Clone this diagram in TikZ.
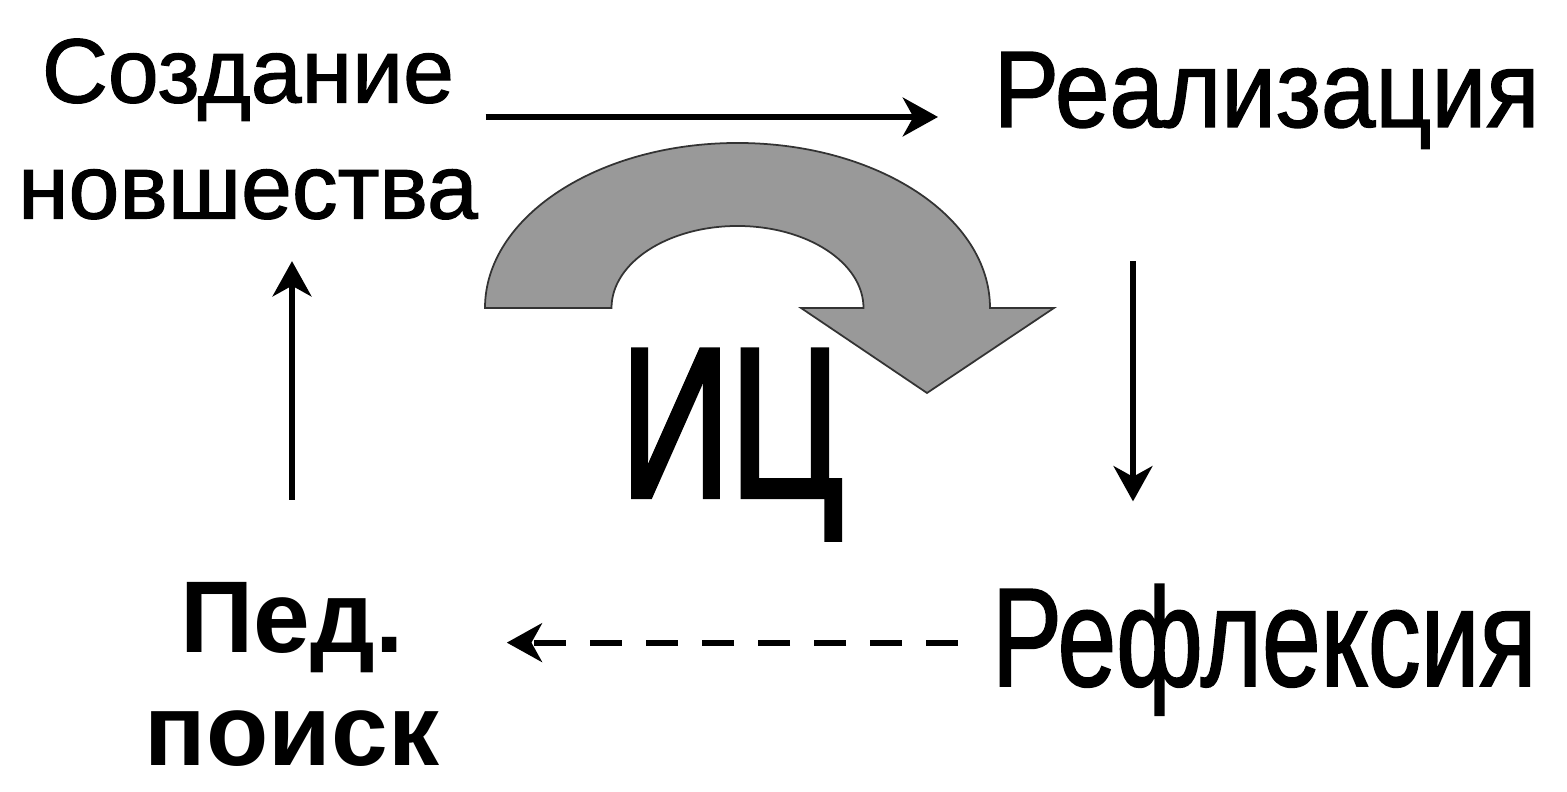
\documentclass[tikz,border=0pt]{standalone}
\usepackage{fontspec}
\setmainfont{Liberation Sans}
\newfontfamily\createfont[FakeBold=1.3]{Liberation Sans}
\newfontfamily\realfont[FakeStretch=0.9, FakeBold=1.2]{Liberation Sans}
\newfontfamily\reflfont[FakeStretch=0.75, FakeBold=1.2]{Liberation Sans}
\newfontfamily\icfont[FakeStretch=0.71, FakeBold=2]{Liberation Sans}
\usetikzlibrary{arrows.meta}
\definecolor{arcgray}{RGB}{153,153,153}
\tikzset{
	arr/.style={line width=1.7pt, -{Stealth[length=10pt, width=11pt, inset=3pt]}},
	dasharr/.style={arr, dash pattern=on 0.32cm off 0.24cm},
	lbl/.style={inner sep=2pt}
}

\begin{document}
\begin{tikzpicture}
				\useasboundingbox (0, 0) rectangle (15.67, 7.92);
				% Nodes:
				\node[lbl, anchor=north, align=center,
				font=\fontsize{26}{33}\createfont] (create) at (2.48, 7.61)
				{Создание\\новшества};
				\node[lbl, anchor=base west, font=\fontsize{31}{36}\realfont]
				(real) at (9.86, 6.65){Реализация};
				\node[lbl, anchor=base west, font=\fontsize{40}{46}\reflfont]
				(refl) at (9.84, 1.06){Рефлексия};
				\node[lbl, anchor=north, align=center,
				font=\fontsize{29}{32}\selectfont\bfseries] (search) at (2.92, 2.17)
				{Пед.\\поиск};
				\node[lbl, anchor=base west, font=\fontsize{61}{70}\icfont]
				(ic) at (6.13, 2.95){ИЦ};
				% Curved arrow:
				\filldraw[fill=arcgray, draw=black!80, line width=0.5pt]
				(4.85, 4.84) arc[start angle=180, end angle=0,
				x radius=2.525, y radius=1.65] -- (10.54, 4.84)
				-- (9.27, 3.99) -- (8.01, 4.84) -- (8.635, 4.84)
				arc[start angle=0, end angle=180, x radius=1.26, y radius=0.82]
				-- cycle;
				% Arrows:
				\draw[arr, shorten >=4.8mm]
				([yshift=1mm]create.east |- real.base west)
				-- ([yshift=1mm]real.base west);
				\draw[arr, shorten >=7.5mm, shorten <=10.5mm]
				([xshift=14.7mm]real.south west)
				-- ([xshift=14.7mm]real.south west |- refl.north);
				\draw[dasharr, shorten <=2.6mm, shorten >=6mm]
				([yshift=0.7mm]refl.west) -- ([yshift=0.7mm]refl.west -| search.east);
				\draw[arr, shorten <=7.5mm, shorten >=3.4mm]
				(search.north) -- (search.north |- create.south);
			\end{tikzpicture}
\end{document}
